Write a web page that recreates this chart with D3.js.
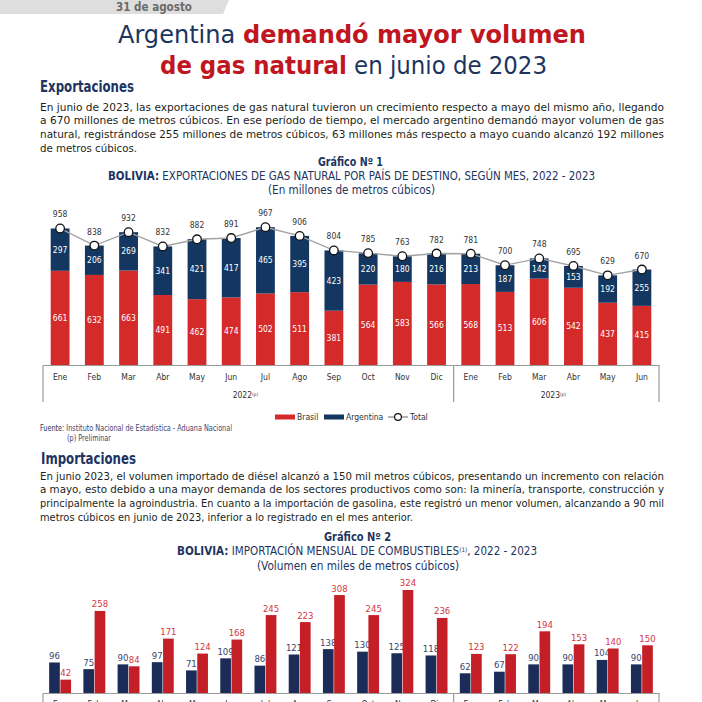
<!DOCTYPE html>
<html>
<head>
<meta charset="utf-8">
<script src="https://cdn.jsdelivr.net/npm/d3@7"></script>
<style>
  html, body { margin: 0; padding: 0; background: #fff; }
  svg { display: block; }
  text { font-family: "Liberation Sans Narrow", "DejaVu Sans Condensed", "Open Sans", sans-serif; }
</style>
</head>
<body>
<svg id="page" width="702" height="702"></svg>
<script>
var months = ['Ene', 'Feb', 'Mar', 'Abr', 'May', 'Jun', 'Jul', 'Ago', 'Sep', 'Oct', 'Nov', 'Dic',
  'Ene', 'Feb', 'Mar', 'Abr', 'May', 'Jun'];
var yearLabels = ['2022', '2023'];
var yearSpans = [12, 6];

// Gráfico 1: exportaciones de gas natural (millones de m3)
var brasil = [661, 632, 663, 491, 462, 474, 502, 511, 381, 564, 583, 566, 568, 513, 606, 542, 437, 415];
var argentina = [297, 206, 269, 341, 421, 417, 465, 395, 423, 220, 180, 216, 213, 187, 142, 153, 192, 255];
var total = [958, 838, 932, 832, 882, 891, 967, 906, 804, 785, 763, 782, 781, 700, 748, 695, 629, 670];

// Gráfico 2: importación de combustibles (miles de m3)
var gasolina = [96, 75, 90, 97, 71, 109, 86, 121, 138, 130, 125, 118, 62, 67, 90, 90, 104, 90];
var diesel = [42, 258, 84, 171, 124, 168, 245, 223, 308, 245, 324, 236, 123, 122, 194, 153, 140, 150];

var expoLines = [
  'En junio de 2023, las exportaciones de gas natural tuvieron un crecimiento respecto a mayo del mismo año, llegando',
  'a 670 millones de metros cúbicos. En ese período de tiempo, el mercado argentino demandó mayor volumen de gas',
  'natural, registrándose 255 millones de metros cúbicos, 63 millones más respecto a mayo cuando alcanzó 192 millones',
  'de metros cúbicos.'
];
var impoLines = [
  'En junio 2023, el volumen importado de diésel alcanzó a 150 mil metros cúbicos, presentando un incremento con relación',
  'a mayo, esto debido a una mayor demanda de los sectores productivos como son: la minería, transporte, construcción y',
  'principalmente la agroindustria. En cuanto a la importación de gasolina, este registró un menor volumen, alcanzando a 90 mil',
  'metros cúbicos en junio de 2023, inferior a lo registrado en el mes anterior.'
];

(function() {
  var svg, navy, red, ink, label, paragraph, x1, y1, x2, x2s, y2, rows, stacked, c1, c2, line, axis1, axis2, bounds;
  svg = d3.select('#page');
  navy = '#1d3461';
  red = '#c0161f';
  ink = '#231f20';

  svg.append('rect').attr('width', 702).attr('height', 702).attr('fill', '#fff');

  // parts: [text, fill, weight, superscript]
  label = function(x, y, len, size, parts, anchor) {
    var t = svg.append('text').attr('x', x).attr('y', y).attr('font-size', size)
      .attr('text-anchor', anchor || 'start');
    if (len) {
      t.attr('textLength', len).attr('lengthAdjust', 'spacingAndGlyphs');
    }
    parts.forEach(function(p) {
      var s = t.append('tspan').text(p[0]).attr('fill', p[1] || ink).attr('font-weight', p[2] || 'normal');
      if (p[3]) {
        s.attr('font-size', size * 0.55).attr('baseline-shift', 'super');
      }
    });
    return t;
  };

  paragraph = function(lines, top, lastLen) {
    lines.forEach(function(l, i) {
      var last = i === lines.length - 1;
      label(40, top + i * 13.7, last ? lastLen : 624, 11.3, [[l, ink]]);
    });
  };

  // cabecera
  svg.append('path').attr('d', 'M0,0H229L223,14H0Z').attr('fill', '#dedede');
  label(116, 11, 76, 11.5, [['31 de agosto', '#6b6b6b', 'bold']]);
  label(118, 43, 468, 25, [['Argentina ', navy], ['demandó mayor volumen', red, 'bold']]);
  label(160, 74, 387, 25, [['de gas natural', red, 'bold'], [' en junio de 2023', navy]]);

  label(40, 92, 94, 15, [['Exportaciones', navy, 'bold']]);
  paragraph(expoLines, 110.5, 97);

  label(318, 166, 65, 11.5, [['Gráfico Nº 1', navy, 'bold']]);
  label(108, 180, 487, 11.5, [['BOLIVIA:', navy, 'bold'],
    [' EXPORTACIONES DE GAS NATURAL POR PAÍS DE DESTINO, SEGÚN MES, 2022 - 2023', navy]]);
  label(268, 194, 167, 11.5, [['(En millones de metros cúbicos)', navy]]);

  // ---- Gráfico 1 ----
  x1 = d3.scaleBand().domain(d3.range(months.length)).range([43, 659]).paddingInner(0.45).paddingOuter(0.225);
  y1 = d3.scaleLinear().domain([0, 1000]).range([365, 222.5]);
  rows = months.map(function(m, i) {
    return { brasil: brasil[i], argentina: argentina[i] };
  });
  stacked = d3.stack().keys(['brasil', 'argentina'])(rows);
  c1 = { brasil: '#d42a2a', argentina: '#143761' };

  bounds = [0];
  yearSpans.forEach(function(s, i) {
    bounds.push(bounds[i] + s);
  });

  svg.append('g').selectAll('g').data(stacked).enter().append('g')
    .attr('fill', function(s) { return c1[s.key]; })
    .each(function(s) {
      var g = d3.select(this);
      g.selectAll('rect').data(s).enter().append('rect')
        .attr('x', function(d, i) { return x1(i); })
        .attr('width', x1.bandwidth())
        .attr('y', function(d) { return y1(d[1]); })
        .attr('height', function(d) { return y1(d[0]) - y1(d[1]); });
      g.selectAll('text').data(s).enter().append('text')
        .attr('x', function(d, i) { return x1(i) + x1.bandwidth() / 2; })
        .attr('y', function(d) { return (y1(d[0]) + y1(d[1])) / 2 + 3; })
        .attr('text-anchor', 'middle').attr('font-size', 8.5).attr('fill', '#fff')
        .text(function(d) { return d[1] - d[0]; });
    });

  axis1 = svg.append('g').attr('transform', 'translate(0,365)')
    .call(d3.axisBottom(x1).tickSize(0).tickSizeOuter(0).tickPadding(9)
      .tickFormat(function(i) { return months[i]; }));
  axis1.select('.domain').attr('stroke', '#9a9a9a').attr('stroke-width', 1.2);
  axis1.selectAll('text').attr('font-size', 8.5).attr('fill', '#333')
    .attr('font-family', '"Liberation Sans Narrow", "DejaVu Sans Condensed", "Open Sans", sans-serif');

  svg.append('g').selectAll('line').data(bounds).enter().append('line')
    .attr('x1', function(b) { return x1.range()[0] + b * x1.step(); })
    .attr('x2', function(b) { return x1.range()[0] + b * x1.step(); })
    .attr('y1', 365).attr('y2', 402)
    .attr('stroke', '#9a9a9a').attr('stroke-width', 1.2);

  yearLabels.forEach(function(yl, i) {
    var cx = x1.range()[0] + (bounds[i] + yearSpans[i] / 2) * x1.step() - 3;
    label(cx, 398, null, 8.5, [[yl, '#333'], ['(p)', '#333', 'normal', true]], 'middle');
  });

  line = d3.line()
    .x(function(d, i) { return x1(i) + x1.bandwidth() / 2; })
    .y(function(d) { return y1(d); });
  svg.append('path').datum(total).attr('d', line)
    .attr('fill', 'none').attr('stroke', '#a3a3a3').attr('stroke-width', 1.4);
  svg.append('g').selectAll('circle').data(total).enter().append('circle')
    .attr('cx', function(d, i) { return x1(i) + x1.bandwidth() / 2; })
    .attr('cy', function(d) { return y1(d); })
    .attr('r', 4.3).attr('fill', '#fff').attr('stroke', '#111').attr('stroke-width', 1.3);
  svg.append('g').selectAll('text').data(total).enter().append('text')
    .attr('x', function(d, i) { return x1(i) + x1.bandwidth() / 2; })
    .attr('y', function(d) { return y1(d) - 11; })
    .attr('text-anchor', 'middle').attr('font-size', 8.5).attr('fill', '#333')
    .text(function(d) { return d; });

  // leyenda
  svg.append('rect').attr('x', 275).attr('y', 414.5).attr('width', 20).attr('height', 5).attr('fill', c1.brasil);
  label(297, 420, null, 8.5, [['Brasil', '#333']]);
  svg.append('rect').attr('x', 324).attr('y', 414.5).attr('width', 20).attr('height', 5).attr('fill', c1.argentina);
  label(346, 420, null, 8.5, [['Argentina', '#333']]);
  svg.append('line').attr('x1', 388).attr('x2', 408).attr('y1', 417).attr('y2', 417)
    .attr('stroke', '#888').attr('stroke-width', 1.3);
  svg.append('circle').attr('cx', 398).attr('cy', 417).attr('r', 3.4)
    .attr('fill', '#fff').attr('stroke', '#111').attr('stroke-width', 1.2);
  label(410, 420, null, 8.5, [['Total', '#333']]);

  label(40, 431, 192, 8, [['Fuente:', navy], [' Instituto Nacional de Estadística - Aduana Nacional', '#3a4570']]);
  label(67, 441, 44, 8, [['(p) Preliminar', '#3a4570']]);

  // ---- Importaciones ----
  label(41, 464, 95, 15, [['Importaciones', navy, 'bold']]);
  paragraph(impoLines, 479.5, 373);

  label(324, 541, 67, 11.5, [['Gráfico Nº 2', navy, 'bold']]);
  label(177, 555, 360, 11.5, [['BOLIVIA:', navy, 'bold'],
    [' IMPORTACIÓN MENSUAL DE COMBUSTIBLES', navy], ['(1)', navy, 'normal', true], [', 2022 - 2023', navy]]);
  label(257, 570, 202, 11.5, [['(Volumen en miles de metros cúbicos)', navy]]);

  // ---- Gráfico 2 ----
  x2 = d3.scaleBand().domain(d3.range(months.length)).range([43, 659]).paddingInner(0.36).paddingOuter(0.18);
  x2s = d3.scaleBand().domain(['gasolina', 'diesel']).range([0, x2.bandwidth()]).paddingInner(0.05);
  y2 = d3.scaleLinear().domain([0, 350]).range([693, 581.7]);
  c2 = {
    gasolina: { bar: '#1b2c58', text: '#34466f', values: gasolina },
    diesel: { bar: '#c41f26', text: '#d6353b', values: diesel }
  };

  x2s.domain().forEach(function(key) {
    var g = svg.append('g');
    g.selectAll('rect').data(c2[key].values).enter().append('rect')
      .attr('x', function(d, i) { return x2(i) + x2s(key); })
      .attr('width', x2s.bandwidth())
      .attr('y', function(d) { return y2(d); })
      .attr('height', function(d) { return y2(0) - y2(d); })
      .attr('fill', c2[key].bar);
    g.selectAll('text').data(c2[key].values).enter().append('text')
      .attr('x', function(d, i) { return x2(i) + x2s(key) + x2s.bandwidth() / 2; })
      .attr('y', function(d) { return y2(d) - 3.5; })
      .attr('text-anchor', 'middle').attr('font-size', 9.5).attr('fill', c2[key].text)
      .text(function(d) { return d; });
  });

  axis2 = svg.append('g').attr('transform', 'translate(0,693)')
    .call(d3.axisBottom(x2).tickSize(0).tickSizeOuter(0).tickPadding(8)
      .tickFormat(function(i) { return months[i]; }));
  axis2.select('.domain').attr('stroke', '#9a9a9a').attr('stroke-width', 1.2);
  axis2.selectAll('text').attr('font-size', 8.5).attr('fill', '#333')
    .attr('font-family', '"Liberation Sans Narrow", "DejaVu Sans Condensed", "Open Sans", sans-serif');

  svg.append('g').selectAll('line').data(bounds).enter().append('line')
    .attr('x1', function(b) { return x2.range()[0] + b * x2.step(); })
    .attr('x2', function(b) { return x2.range()[0] + b * x2.step(); })
    .attr('y1', 693).attr('y2', 730)
    .attr('stroke', '#9a9a9a').attr('stroke-width', 1.2);
}).call(this);
</script>
</body>
</html>
